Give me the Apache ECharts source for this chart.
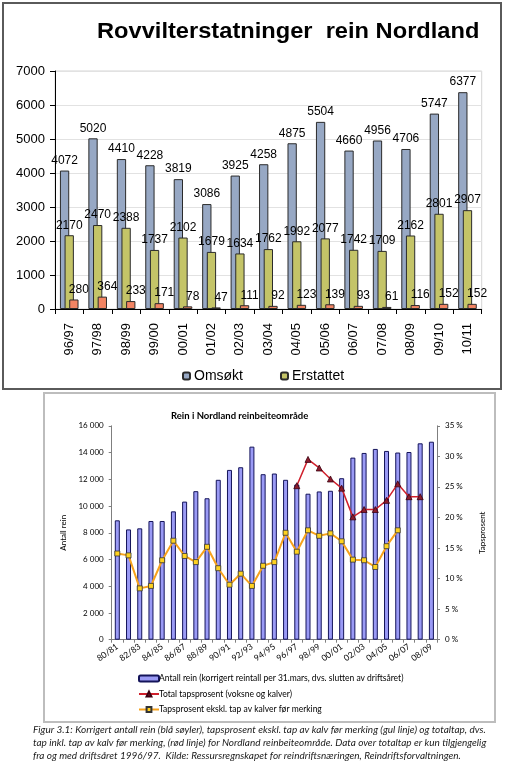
<!DOCTYPE html>
<html><head><meta charset="utf-8">
<script src="https://cdn.jsdelivr.net/npm/echarts@6/dist/echarts.min.js"></script>
<style>html,body{margin:0;padding:0;background:#fff}#c{width:505px;height:763px}</style>
</head><body><div id="c"></div>
<script>
// ---- Top chart data ----
const topCats = ['96/97','97/98','98/99','99/00','00/01','01/02','02/03','03/04','04/05','05/06','06/07','07/08','08/09','09/10','10/11'];
const omsokt = [4072,5020,4410,4228,3819,3086,3925,4258,4875,5504,4660,4956,4706,5747,6377];
const erstattet = [2170,2470,2388,1737,2102,1679,1634,1762,1992,2077,1742,1709,2162,2801,2907];
const tredje = [280,364,233,171,78,47,111,92,123,139,93,61,116,152,152];

// ---- Bottom chart data ----
const years = ['80/81','81/82','82/83','83/84','84/85','85/86','86/87','87/88','88/89','89/90','90/91','91/92','92/93','93/94','94/95','95/96','96/97','97/98','98/99','99/00','00/01','01/02','02/03','03/04','04/05','05/06','06/07','07/08','08/09'];
const antallRein = [8930,8250,8330,8880,8880,9600,10330,11110,10580,11960,12700,12900,14440,12380,12430,11960,11610,10920,11090,11140,12080,13620,13970,14270,14120,14000,14040,14690,14810];
const totalTap = [null,null,null,null,null,null,null,null,null,null,null,null,null,null,null,null,25.2,29.5,28.1,26.3,24.8,20.1,21.3,21.3,22.8,25.5,23.4,23.4,null];
const tapEkskl = [14.1,13.8,8.4,8.8,13.0,16.2,13.7,12.7,15.2,11.7,9.0,10.8,8.8,12.1,12.7,17.5,14.4,17.9,17.0,17.4,16.1,13.1,13.0,11.9,15.3,17.9,null,null,null];

const captionLines = [
 'Figur 3.1: Korrigert antall rein (blå søyler), tapsprosent ekskl. tap av kalv før merking (gul linje) og totaltap, dvs.',
 'tap inkl. tap av kalv før merking, (rød linje) for Nordland reinbeiteområde. Data over totaltap er kun tilgjengelig',
 'fra og med driftsåret 1996/97.  Kilde: Ressursregnskapet for reindriftsnæringen, Reindriftsforvaltningen.'
];

const ARIAL = '"Liberation Sans", Arial, sans-serif';
const CAL = 'Lato, "Liberation Sans", sans-serif';
const sp = v => v === 0 ? '0' : String(v).replace(/\B(?=(\d{3})+(?!\d))/g, '\u00a0');

const chart = echarts.init(document.getElementById('c'), null, {renderer:'canvas'});
const topLabel = {show:true, position:'top', fontSize:12, color:'#000', fontFamily:ARIAL, distance:4};
chart.setOption({
  animation:false,
  backgroundColor:'#fff',
  title:[
    {text:'Rein i Nordland reinbeiteområde', left:166, top:406, textStyle:{fontFamily:CAL, fontWeight:'bold', fontSize:9.5, color:'#000'}}
  ],
  legend:[
    {data:['Omsøkt','Erstattet'], left:177, top:364, itemWidth:7, itemHeight:7, itemGap:37,
     textStyle:{fontFamily:ARIAL, fontSize:14, color:'#000', padding:[0,0,0,-1]}},
    {data:['Antall rein (korrigert reintall per 31.mars, dvs. slutten av driftsåret)','Total tapsprosent (voksne og kalver)','Tapsprosent ekskl. tap av kalver før merking'],
     orient:'vertical', left:133, top:669, itemWidth:20, itemHeight:6, itemGap:6.5,
     textStyle:{fontFamily:CAL, fontSize:8.5, color:'#000', padding:[0,0,0,-5]}}
  ],
  grid:[
    {left:55, top:71, width:426.7, height:238, show:true, borderColor:'#d4d4d4', borderWidth:1, backgroundColor:'transparent'},
    {left:111.7, top:425.8, width:325.3, height:213.9}
  ],
  xAxis:[
    {type:'category', gridIndex:0, data:topCats,
     axisLine:{lineStyle:{color:'#000', width:1}},
     axisTick:{show:true, length:5, lineStyle:{color:'#000'}},
     axisLabel:{rotate:90, fontSize:13, color:'#000', fontFamily:ARIAL, margin:14, interval:0}},
    {type:'category', gridIndex:1, data:years,
     axisLine:{lineStyle:{color:'#7f7f7f'}},
     axisTick:{show:true, length:3, interval:0, lineStyle:{color:'#7f7f7f'}},
     axisLabel:{rotate:35, fontSize:8.5, color:'#000', fontFamily:CAL, margin:6, interval:1}}
  ],
  yAxis:[
    {type:'value', gridIndex:0, min:0, max:7000, interval:1000,
     axisLine:{show:true, lineStyle:{color:'#000'}},
     axisTick:{show:true, length:5, lineStyle:{color:'#000'}},
     splitLine:{show:true, lineStyle:{color:'#e2e2e2'}},
     axisLabel:{fontSize:13, color:'#000', fontFamily:ARIAL, margin:10, formatter:v=>String(v)}},
    {type:'value', gridIndex:1, min:0, max:16000, interval:2000,
     name:'Antall rein', nameLocation:'middle', nameGap:44, nameRotate:90,
     nameTextStyle:{fontFamily:CAL, fontSize:8, color:'#000'},
     axisLine:{show:true, lineStyle:{color:'#7f7f7f'}},
     axisTick:{show:true, length:3, lineStyle:{color:'#7f7f7f'}},
     splitLine:{show:false},
     axisLabel:{fontSize:8, color:'#000', fontFamily:CAL, margin:8, formatter:sp}},
    {type:'value', gridIndex:1, position:'right', min:0, max:35, interval:5,
     name:'Tapsprosent', nameLocation:'middle', nameGap:41, nameRotate:90,
     nameTextStyle:{fontFamily:CAL, fontSize:8, color:'#000'},
     axisLine:{show:true, lineStyle:{color:'#7f7f7f'}},
     axisTick:{show:true, length:3, lineStyle:{color:'#7f7f7f'}},
     splitLine:{show:false},
     axisLabel:{fontSize:8, color:'#000', fontFamily:CAL, margin:8, formatter:'{value} %'}}
  ],
  series:[
    {name:'Omsøkt', type:'bar', xAxisIndex:0, yAxisIndex:0, data:omsokt, barWidth:9.3, barGap:'-50%',
     itemStyle:{color:'#97a8c4', borderColor:'#2b2b2b', borderWidth:1}, label:topLabel},
    {name:'Erstattet', type:'bar', xAxisIndex:0, yAxisIndex:0, data:erstattet, barWidth:9.3, barGap:'-50%',
     itemStyle:{color:'#c4c468', borderColor:'#2b2b2b', borderWidth:1}, label:topLabel},
    {name:'Tredje', type:'bar', xAxisIndex:0, yAxisIndex:0, data:tredje, barWidth:9.3, barGap:'-50%',
     itemStyle:{color:'#f28463', borderColor:'#2b2b2b', borderWidth:1}, label:Object.assign({}, topLabel, {offset:[5,0]})},
    {name:'Antall rein (korrigert reintall per 31.mars, dvs. slutten av driftsåret)', type:'bar', xAxisIndex:1, yAxisIndex:1,
     data:antallRein, barWidth:5, itemStyle:{color:'#9a9af5', borderColor:'#14145a', borderWidth:1}},
    {name:'Total tapsprosent (voksne og kalver)', type:'line', xAxisIndex:1, yAxisIndex:2, data:totalTap,
     symbol:'triangle', symbolSize:6, showAllSymbol:true, connectNulls:false,
     lineStyle:{color:'#d0202c', width:1.5}, itemStyle:{color:'#8c1c2c', borderColor:'#3a0010', borderWidth:0.8}},
    {name:'Tapsprosent ekskl. tap av kalver før merking', type:'line', xAxisIndex:1, yAxisIndex:2, data:tapEkskl,
     symbol:'rect', symbolSize:5, showAllSymbol:true,
     lineStyle:{color:'#f7a21c', width:2}, itemStyle:{color:'#ffd21f', borderColor:'#333', borderWidth:0.8}}
  ],
  graphic:[
    {type:'rect', shape:{x:3, y:3, width:498, height:386}, style:{fill:'none', stroke:'#5a5a5a', lineWidth:2}, z:-1},
    {type:'rect', shape:{x:44, y:393, width:451, height:329}, style:{fill:'none', stroke:'#bdbdbd', lineWidth:2}, z:-1},
    {type:'text', x:97, y:32, scaleX:1.1, style:{text:'Rovvilterstatninger  rein Nordland', fontFamily:ARIAL, fontWeight:'bold', fontSize:21.5, fill:'#000', textVerticalAlign:'middle', verticalAlign:'middle'}},
    ...captionLines.map((t,i)=>({type:'text', x:33, y:729.5 + i*13.3,
      style:{text:t, fontFamily:CAL, fontStyle:'italic', fontSize:10, fill:'#1a1a1a', textVerticalAlign:'middle', verticalAlign:'middle'}}))
  ]
});
</script></body></html>
